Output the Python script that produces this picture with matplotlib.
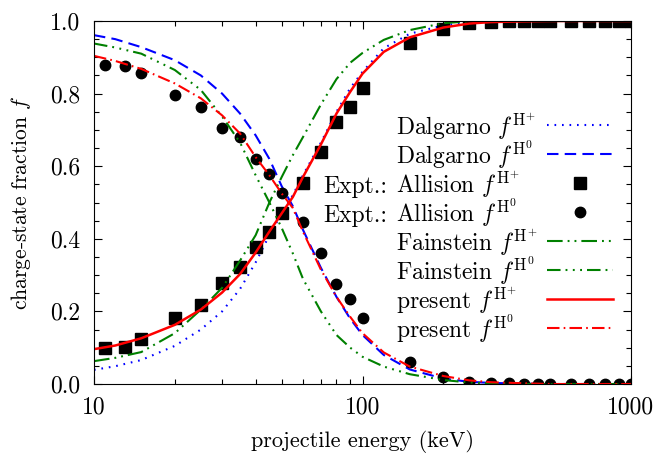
import matplotlib
matplotlib.use('Agg')
import matplotlib.pyplot as plt
from matplotlib.transforms import offset_copy
from matplotlib.ticker import FixedLocator, FormatStrFormatter, MultipleLocator, NullFormatter

plt.rcParams['font.family'] = 'serif'
plt.rcParams['font.serif'] = ['cmr10']
plt.rcParams['mathtext.fontset'] = 'cm'
plt.rcParams['axes.formatter.use_mathtext'] = True

#####
# Theory curves (projectile energy in keV)

energy = [10, 12, 15, 20, 25, 30, 35, 40, 45, 50, 55, 60, 70, 80, 90,
          100, 120, 150, 200, 250, 300, 400, 500, 700, 1000]

dalgarno_hp = [0.039, 0.049, 0.066, 0.105, 0.150, 0.200, 0.262, 0.335, 0.410,
               0.470, 0.520, 0.575, 0.665, 0.750, 0.815, 0.860, 0.925, 0.965,
               0.988, 0.996, 0.999, 1.0, 1.0, 1.0, 1.0]
dalgarno_h0 = [0.961, 0.950, 0.928, 0.892, 0.850, 0.800, 0.745, 0.685, 0.620,
               0.545, 0.490, 0.425, 0.320, 0.240, 0.180, 0.135, 0.080, 0.040,
               0.015, 0.006, 0.003, 0.001, 0.0, 0.0, 0.0]

fainstein_hp = [0.063, 0.072, 0.088, 0.140, 0.205, 0.265, 0.340, 0.410, 0.500,
                0.570, 0.630, 0.680, 0.770, 0.840, 0.885, 0.912, 0.948, 0.975,
                0.994, 0.999, 1.0, 1.0, 1.0, 1.0, 1.0]
fainstein_h0 = [0.938, 0.927, 0.910, 0.865, 0.810, 0.737, 0.665, 0.575, 0.500,
                0.430, 0.360, 0.290, 0.200, 0.135, 0.100, 0.075, 0.048, 0.027,
                0.011, 0.004, 0.002, 0.0, 0.0, 0.0, 0.0]

present_hp = [0.096, 0.106, 0.126, 0.163, 0.205, 0.252, 0.303, 0.362, 0.420,
              0.470, 0.515, 0.570, 0.660, 0.745, 0.805, 0.855, 0.915, 0.955,
              0.982, 0.993, 0.997, 0.999, 1.0, 1.0, 1.0]
present_h0 = [0.904, 0.890, 0.868, 0.828, 0.787, 0.740, 0.690, 0.625, 0.575,
              0.525, 0.485, 0.420, 0.315, 0.240, 0.185, 0.140, 0.087, 0.048,
              0.022, 0.010, 0.005, 0.002, 0.0, 0.0, 0.0]

#####
# Allision measurements

expt_energy = [11, 13, 15, 20, 25, 30, 35, 40, 45, 50, 60, 70, 80, 90, 100,
               150, 200, 250, 300, 350, 400, 450, 500, 600, 700, 800, 900, 1000]
expt_hp = [0.100, 0.103, 0.124, 0.182, 0.218, 0.278, 0.323, 0.378, 0.419,
           0.471, 0.554, 0.638, 0.722, 0.762, 0.816, 0.939, 0.978, 0.995,
           0.998, 1.0, 1.0, 1.0, 1.0, 1.0, 1.0, 1.0, 1.0, 1.0]
expt_h0 = [0.880, 0.876, 0.857, 0.796, 0.763, 0.705, 0.680, 0.620, 0.579,
           0.525, 0.446, 0.360, 0.276, 0.235, 0.181, 0.060, 0.020, 0.005,
           0.003, 0.002, 0.001, 0.001, 0.001, 0.0, 0.0, 0.0, 0.0, 0.0]

# key entries: (prefix, name)
key_prefix = ['', '', 'Expt.:', 'Expt.:', '', '', '', '']
key_name = [r'Dalgarno $f^{\mathrm{H}^{+}}$', r'Dalgarno $f^{\mathrm{H}^{0}}$',
            r'Allision $f^{\mathrm{H}^{+}}$', r'Allision $f^{\mathrm{H}^{0}}$',
            r'Fainstein $f^{\mathrm{H}^{+}}$', r'Fainstein $f^{\mathrm{H}^{0}}$',
            r'present $f^{\mathrm{H}^{+}}$', r'present $f^{\mathrm{H}^{0}}$']

blue = '#0000ff'
green = '#008000'
red = '#ff0000'
lw = 1.5
key_size = 17

fig = plt.figure(figsize=(6.7, 4.57), dpi=100)
ax = fig.add_axes([94 / 670, 1 - 384 / 457, 537 / 670, 363 / 457])

lines = []
lines += ax.plot(energy, dalgarno_hp, color=blue, lw=lw, dashes=(0.8, 2.8))
lines += ax.plot(energy, dalgarno_h0, color=blue, lw=lw, dashes=(5.5, 3.0))
lines += ax.plot(expt_energy, expt_hp, ls='none', marker='s', ms=8,
                 color='black')
lines += ax.plot(expt_energy, expt_h0, ls='none', marker='o', ms=7.5,
                 color='black')
lines += ax.plot(energy, fainstein_hp, color=green, lw=lw,
                 dashes=(7.5, 2.4, 0.9, 2.4, 0.9, 2.4))
lines += ax.plot(energy, fainstein_h0, color=green, lw=lw,
                 dashes=(6.5, 2.4, 0.9, 2.6, 0.9, 2.6, 0.9, 2.4))
lines += ax.plot(energy, present_hp, color=red, lw=lw + 0.3)
lines += ax.plot(energy, present_h0, color=red, lw=lw,
                 dashes=(6.0, 2.0, 0.8, 2.0))

ax.set_xscale('log')
ax.set_xlim(10, 1000)
ax.set_ylim(0, 1)

ax.xaxis.set_major_locator(FixedLocator([10, 100, 1000]))
ax.xaxis.set_major_formatter(FormatStrFormatter('%d'))
ax.xaxis.set_minor_locator(FixedLocator(
    [k * 10 ** p for p in (1, 2) for k in range(2, 10)]))
ax.xaxis.set_minor_formatter(NullFormatter())
ax.yaxis.set_major_locator(MultipleLocator(0.2))
ax.yaxis.set_minor_locator(MultipleLocator(0.05))
ax.yaxis.set_major_formatter(FormatStrFormatter('%.1f'))

ax.tick_params(which='both', direction='in', top=True, right=True,
               labelsize=17, width=0.8)
ax.tick_params(axis='x', which='both', pad=9)
ax.tick_params(axis='y', which='both', pad=10)
ax.tick_params(which='major', length=6)
ax.tick_params(which='minor', length=3.5)

ax.set_xlabel('projectile energy (keV)', fontsize=16, labelpad=8)
ax.set_ylabel(r'charge-state fraction $f$', fontsize=15.5, labelpad=12)

# key: line samples from the legend, names left-aligned beside them
leg = ax.legend(lines, [''] * len(lines), loc='upper right',
                bbox_to_anchor=(0.9665, 0.738), frameon=False,
                markerfirst=False, fontsize=17.5, handlelength=2.7,
                handletextpad=0, labelspacing=0.285, borderpad=0,
                borderaxespad=0)

fig.canvas.draw()
to_axes = ax.transAxes.inverted()
name_x = (396 - 94) / 537
name_tr = offset_copy(ax.transAxes, fig=fig, y=-7.4, units='points')
prefix_tr = offset_copy(ax.transAxes, fig=fig, x=-6, y=-7.4, units='points')
for handle, prefix, name in zip(leg.legend_handles, key_prefix, key_name):
    bb = handle.get_window_extent(fig.canvas.get_renderer())
    y = to_axes.transform((0, (bb.y0 + bb.y1) / 2))[1]
    ax.text(name_x, y, name, transform=name_tr, fontsize=key_size,
            ha='left', va='baseline')
    if prefix:
        ax.text(name_x, y, prefix, transform=prefix_tr, fontsize=key_size,
                ha='right', va='baseline')

fig.savefig('out.png', dpi=100)
plt.close(fig)
